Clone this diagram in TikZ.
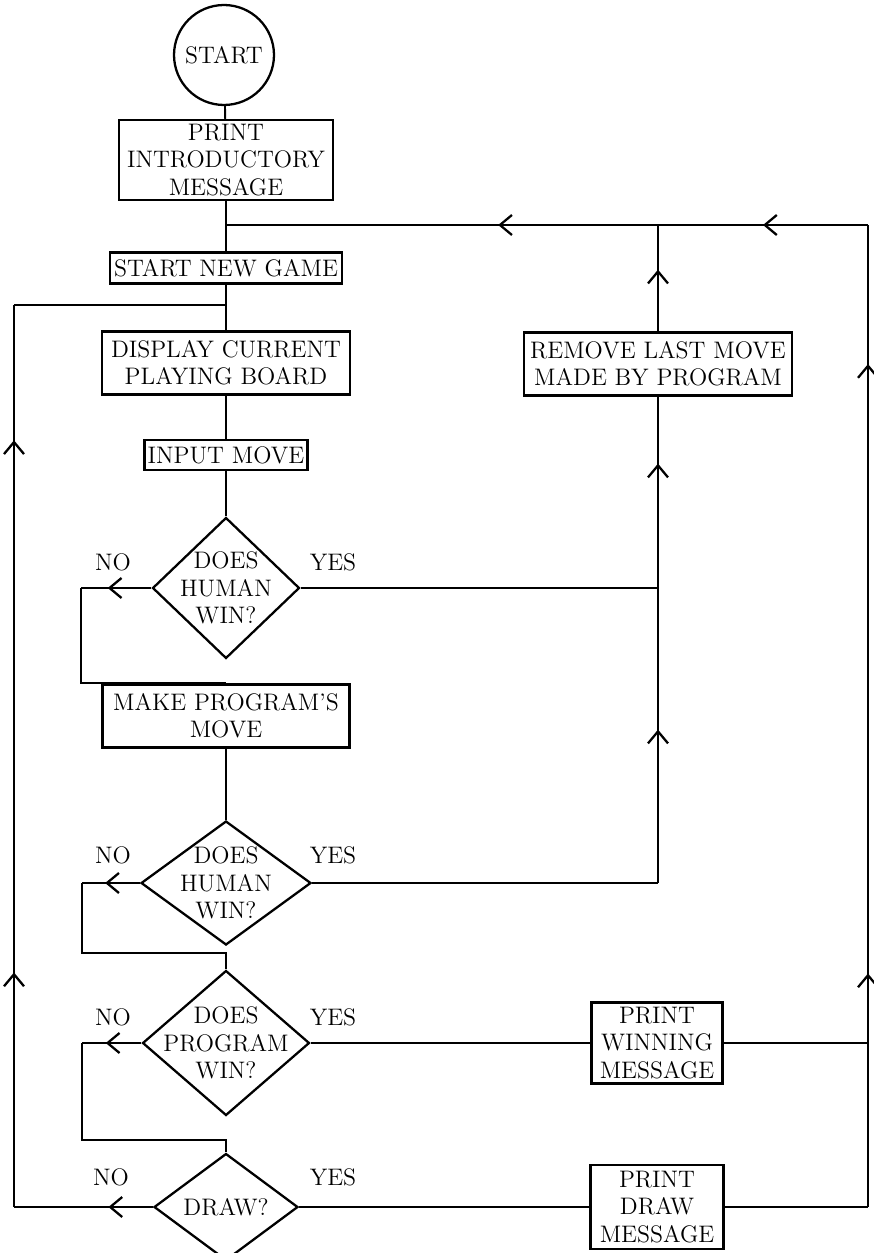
\documentclass[tikz,border=0pt]{standalone}
\usepackage{fontspec}
\usetikzlibrary{arrows.meta, shapes.geometric, decorations.markings}
\newcommand{\flowfont}{\fontsize{13.6}{15.5}\selectfont\addfontfeatures{FakeBold=2}}

\begin{document}
\begin{tikzpicture}[
    x=0.02cm, y=-0.02cm,
    line width=1.1pt,
    barb/.tip={Straight Barb[length=2.4mm, width=4mm, line width=1.3pt]},
    box/.style={draw, line width=1.3pt, inner sep=1pt, align=center, font=\flowfont},
    decision/.style={draw, diamond, line width=1.3pt, inner sep=0pt},
    answer/.style={font=\flowfont},
    midarr/.style={postaction={decorate, decoration={markings, mark=at position #1 with {\arrow{barb}}}}},
  ]
  \useasboundingbox (0,0) rectangle (873,1253);
  % main column
  \node[draw, circle, line width=1.3pt, minimum size=2cm, inner sep=0pt, font=\flowfont] (start) at (224,55) {START};
  \node[box, minimum width=4.28cm, minimum height=1.6cm] (intro) at (226,160) {PRINT\\INTRODUCTORY\\MESSAGE};
  \node[box, minimum width=4.64cm, minimum height=0.62cm] (newgame) at (226,268) {START NEW GAME};
  \node[box, minimum width=4.96cm, minimum height=1.26cm] (display) at (226,363) {DISPLAY CURRENT\\PLAYING BOARD};
  \node[box, minimum width=3.26cm, minimum height=0.6cm] (input) at (226,455) {INPUT MOVE};
  \node[decision, minimum width=2.94cm, minimum height=2.82cm,
    label={[answer, align=center]center:DOES\\HUMAN\\WIN?}] (human1) at (226,588) {};
  \node[box, minimum width=4.94cm, minimum height=1.26cm] (make) at (226,716) {MAKE PROGRAM'S\\MOVE};
  \node[decision, minimum width=3.4cm, minimum height=2.48cm,
    label={[answer, align=center]center:DOES\\HUMAN\\WIN?}] (human2) at (226,883) {};
  \node[decision, minimum width=3.34cm, minimum height=2.9cm,
    label={[answer, align=center]center:DOES\\PROGRAM\\WIN?}] (progwin) at (226,1043) {};
  \node[decision, minimum width=2.88cm, minimum height=2.14cm,
    label={[answer]center:DRAW?}] (draw) at (226,1207) {};
  % right column
  \node[box, minimum width=5.36cm, minimum height=1.26cm] (remove) at (658,364) {REMOVE LAST MOVE\\MADE BY PROGRAM};
  \node[box, minimum width=2.62cm, minimum height=1.62cm] (winmsg) at (657,1043) {PRINT\\WINNING\\MESSAGE};
  \node[box, minimum width=2.66cm, minimum height=1.68cm] (drawmsg) at (657,1207) {PRINT\\DRAW\\MESSAGE};
  % answers
  \node[answer] (no1) at (113,562) {NO};
  \node[answer] (yes1) at (333,562) {YES};
  \node[answer] (no2) at (113,855) {NO};
  \node[answer] (yes2) at (333,855) {YES};
  \node[answer] (no3) at (113,1017) {NO};
  \node[answer] (yes3) at (333,1017) {YES};
  \node[answer] (no4) at (111,1177) {NO};
  \node[answer] (yes4) at (333,1177) {YES};
  % corners
  \coordinate (jtop) at (226,225);
  \coordinate (jleft) at (226,305);
  \coordinate (jr) at (658,225);
  \coordinate (rtop) at (868,225);
  \coordinate (y1) at (658,588);
  \coordinate (y2) at (658,883);
  \coordinate (rw) at (868,1043);
  \coordinate (rd) at (868,1207);
  \coordinate (n1) at (81,588);
  \coordinate (n2) at (82,883);
  \coordinate (n2b) at (226,953);
  \coordinate (n3) at (82,1043);
  \coordinate (n3b) at (226,1140);
  \coordinate (l4) at (14,1207);
  \coordinate (ltop) at (14,305);
  % flow
  \draw (start) -- (intro);
  \draw (intro) -- (newgame);
  \draw (newgame) -- (display);
  \draw (display) -- (input);
  \draw (input) -- (human1);
  \draw[midarr=0.62] (human1.west) -- (n1);
  \draw (n1) |- (make.north);
  \draw (make) -- (human2);
  \draw[midarr=0.6] (human2.west) -- (n2);
  \draw (n2) |- (n2b) -- (progwin.north);
  \draw[midarr=0.6] (progwin.west) -- (n3);
  \draw (n3) |- (n3b) -- (draw.north);
  % yes branches
  \draw (human1.east) -- (y1);
  \draw (human2.east) -- (y2);
  \draw[midarr=0.52] (y2) -- (y1);
  \draw[midarr=0.65] (y1) -- (remove.south);
  \draw[midarr=0.58] (remove.north) -- (jr);
  \draw (progwin.east) -- (winmsg.west);
  \draw (draw.east) -- (drawmsg.west);
  \draw (winmsg.east) -- (rw);
  \draw (drawmsg.east) -- (rd);
  \draw (rd) -- (rw);
  \draw[midarr=0.085, midarr=0.83] (rw) -- (rtop);
  \draw[midarr=0.5] (rtop) -- (jr);
  \draw[midarr=0.37] (jr) -- (jtop);
  % no draw
  \draw[midarr=0.32] (draw.west) -- (l4);
  \draw[midarr=0.26, midarr=0.85] (l4) -- (ltop);
  \draw (ltop) -- (jleft);
\end{tikzpicture}
\end{document}
